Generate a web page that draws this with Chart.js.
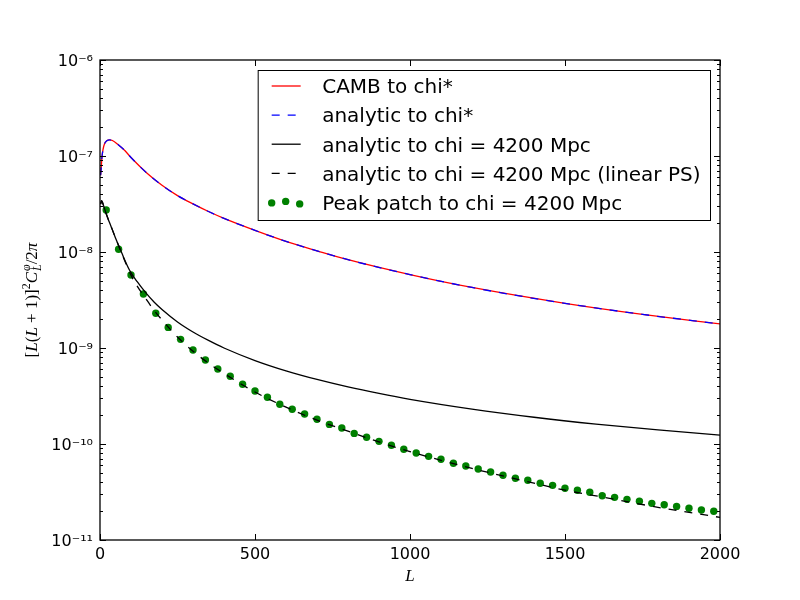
<!DOCTYPE html>
<html>
<head>
<meta charset="utf-8">
<script src="https://cdn.jsdelivr.net/npm/chart.js@4"></script>
<style>
  html, body { margin: 0; padding: 0; background: #fff; }
</style>
</head>
<body>
<canvas id="clChart" width="800" height="600"></canvas>
<script>
// values
const cambL  = [2, 4, 6, 10, 15, 22, 31, 40, 58, 80, 100, 150, 200, 250, 300, 350, 400, 500, 600, 700, 800, 1000, 1200, 1500, 1750, 2000];
const cambCl = [6.3e-8, 7.5e-8, 9.5e-8, 1.18e-7, 1.35e-7, 1.44e-7, 1.47e-7, 1.45e-7, 1.32e-7, 1.14e-7, 9.64e-8, 6.7e-8, 4.96e-8, 3.87e-8, 3.17e-8, 2.64e-8, 2.24e-8, 1.68e-8, 1.29e-8, 1.03e-8, 8.32e-9, 5.82e-9, 4.27e-9, 2.92e-9, 2.24e-9, 1.78e-9];

const anaStarL  = [2, 4, 6, 10, 15, 22, 31, 40, 58, 80, 100, 150, 200, 250, 300, 350, 400, 500, 600, 700, 800, 1000, 1200, 1500, 1750, 2000];
const anaStarCl = [6.3e-8, 7.5e-8, 9.5e-8, 1.18e-7, 1.35e-7, 1.44e-7, 1.47e-7, 1.45e-7, 1.32e-7, 1.14e-7, 9.64e-8, 6.7e-8, 4.96e-8, 3.87e-8, 3.17e-8, 2.64e-8, 2.24e-8, 1.68e-8, 1.29e-8, 1.03e-8, 8.32e-9, 5.82e-9, 4.27e-9, 2.92e-9, 2.24e-9, 1.78e-9];

const chiL  = [2, 5, 10, 15, 20, 30, 40, 52, 70, 95, 120, 148, 175, 200, 250, 300, 350, 400, 500, 600, 700, 800, 900, 1000, 1200, 1400, 1600, 1800, 2000];
const chiCl = [3.15e-8, 3.42e-8, 3.15e-8, 2.8e-8, 2.5e-8, 2.05e-8, 1.7e-8, 1.35e-8, 9.8e-9, 6.5e-9, 4.9e-9, 3.75e-9, 3.0e-9, 2.52e-9, 1.87e-9, 1.47e-9, 1.20e-9, 1.0e-9, 7.4e-10, 5.78e-10, 4.7e-10, 3.93e-10, 3.36e-10, 2.92e-10, 2.31e-10, 1.90e-10, 1.61e-10, 1.40e-10, 1.24e-10];

const linL  = [2, 5, 10, 15, 20, 30, 40, 52, 70, 100, 120, 150, 175, 200, 250, 300, 350, 400, 500, 600, 700, 800, 900, 1000, 1200, 1400, 1500, 1600, 1800, 2000];
const linCl = [3.15e-8, 3.42e-8, 3.15e-8, 2.8e-8, 2.5e-8, 2.05e-8, 1.7e-8, 1.35e-8, 9.7e-9, 5.74e-9, 4.41e-9, 3.19e-9, 2.45e-9, 1.96e-9, 1.30e-9, 9.25e-10, 6.95e-10, 5.43e-10, 3.48e-10, 2.42e-10, 1.77e-10, 1.36e-10, 1.05e-10, 8.32e-11, 5.57e-11, 3.91e-11, 3.3e-11, 2.88e-11, 2.19e-11, 1.72e-11];

const ppL  = [20, 60, 100, 140, 180, 220, 260, 300, 340, 380, 420, 460, 500, 540, 580, 620, 660, 700, 740, 780, 820, 860, 900, 940, 980, 1020, 1060, 1100, 1140, 1180, 1220, 1260, 1300, 1340, 1380, 1420, 1460, 1500, 1540, 1580, 1620, 1660, 1700, 1740, 1780, 1820, 1860, 1900, 1940, 1980];
const ppCl = [2.74e-8, 1.07e-8, 5.76e-9, 3.65e-9, 2.30e-9, 1.64e-9, 1.23e-9, 9.53e-10, 7.50e-10, 6.04e-10, 5.07e-10, 4.19e-10, 3.56e-10, 3.07e-10, 2.59e-10, 2.30e-10, 2.05e-10, 1.81e-10, 1.60e-10, 1.47e-10, 1.29e-10, 1.175e-10, 1.066e-10, 9.69e-11, 8.81e-11, 8.06e-11, 7.44e-11, 6.93e-11, 6.30e-11, 5.90e-11, 5.49e-11, 5.11e-11, 4.72e-11, 4.39e-11, 4.19e-11, 3.90e-11, 3.71e-11, 3.46e-11, 3.30e-11, 3.14e-11, 2.89e-11, 2.78e-11, 2.65e-11, 2.53e-11, 2.41e-11, 2.33e-11, 2.24e-11, 2.14e-11, 2.05e-11, 1.99e-11];

const xTicks = [0, 500, 1000, 1500, 2000];
const yDecades = [-11, -10, -9, -8, -7, -6];

const pts = (xs, ys) => xs.map((x, i) => ({x: x, y: ys[i]}));
const sup = {'-': '\u207B', '0': '\u2070', '1': '\u00B9', '2': '\u00B2', '3': '\u00B3', '4': '\u2074', '5': '\u2075', '6': '\u2076', '7': '\u2077', '8': '\u2078', '9': '\u2079'};
const isDecade = v => Math.abs(Math.log10(v) - Math.round(Math.log10(v))) < 1e-6;

const SANS = "'DejaVu Sans', sans-serif";
const SERIF = "'Liberation Serif', 'DejaVu Serif', serif";

// little mathtext-ish writer for the axis titles
function mathText(ctx, runs, size, x0, y0, draw) {
    let x = x0;
    runs.forEach(r => {
        const parts = r.stack || [r];
        let w = 0;
        parts.forEach(p => {
            const s = size * (p.scale || 1);
            ctx.font = (p.it ? 'italic ' : '') + s + 'px ' + SERIF;
            if (draw) ctx.fillText(p.t, x, y0 + (p.shift || 0) * size);
            w = Math.max(w, ctx.measureText(p.t).width);
        });
        x += w + (r.gap || 0);
    });
    return x - x0;
}

const yTitle = [
    {t: '[', it: false}, {t: 'L', it: true}, {t: '(', it: false}, {t: 'L', it: true},
    {t: ' + 1)]', it: false}, {t: '2', scale: 0.7, shift: -0.4},
    {t: 'C', it: true, gap: 1},
    {stack: [{t: '\u03C6', it: true, scale: 0.7, shift: -0.42}, {t: 'L', it: true, scale: 0.7, shift: 0.22}]},
    {t: '/2', it: false}, {t: '\u03C0', it: true}
];

const decorations = {
    id: 'decorations',
    afterDraw(chart) {
        const {ctx, chartArea: a, scales} = chart;
        ctx.save();
        ctx.strokeStyle = '#000';
        ctx.fillStyle = '#000';

        // inward ticks on all four sides
        ctx.lineWidth = 1;
        ctx.beginPath();
        scales.y.ticks.forEach(t => {
            const y = Math.round(scales.y.getPixelForValue(t.value)) + 0.5;
            const len = isDecade(t.value) ? 6 : 3;
            ctx.moveTo(a.left, y); ctx.lineTo(a.left + len, y);
            ctx.moveTo(a.right, y); ctx.lineTo(a.right - len, y);
        });
        scales.x.ticks.forEach(t => {
            const x = Math.round(scales.x.getPixelForValue(t.value)) + 0.5;
            ctx.moveTo(x, a.bottom); ctx.lineTo(x, a.bottom - 6);
            ctx.moveTo(x, a.top); ctx.lineTo(x, a.top + 6);
        });
        ctx.stroke();

        ctx.lineWidth = 1.3;
        ctx.strokeRect(a.left, a.top, a.right - a.left, a.bottom - a.top);

        // axis titles
        ctx.textBaseline = 'alphabetic';
        ctx.textAlign = 'left';
        const xw = mathText(ctx, [{t: 'L', it: true}], 17, 0, 0, false);
        mathText(ctx, [{t: 'L', it: true}], 17, (a.left + a.right) / 2 - xw / 2, 581, true);

        ctx.save();
        ctx.translate(32, (a.top + a.bottom) / 2);
        ctx.rotate(-Math.PI / 2);
        const yw = mathText(ctx, yTitle, 17, 0, 0, false);
        mathText(ctx, yTitle, 17, -yw / 2, 5, true);
        ctx.restore();

        // legend inside the axes, upper right
        const sets = chart.data.datasets;
        ctx.font = '20px ' + SANS;
        let tw = 0;
        sets.forEach(d => { tw = Math.max(tw, ctx.measureText(d.label).width); });
        const boxW = 64 + tw + 10;
        const boxR = a.right - 9.5;
        const boxL = boxR - boxW;
        const boxT = a.top + 10.5;
        const rowH = 29.1;
        const boxH = 150;
        ctx.fillStyle = '#fff';
        ctx.fillRect(boxL, boxT, boxW, boxH);
        ctx.lineWidth = 1;
        ctx.strokeStyle = '#000';
        ctx.strokeRect(boxL, boxT, boxW, boxH);

        sets.forEach((d, i) => {
            const y = boxT + 15.5 + i * rowH;
            if (d.showLine) {
                ctx.save();
                ctx.strokeStyle = d.borderColor;
                ctx.lineWidth = d.borderWidth;
                ctx.setLineDash(d.borderDash || []);
                ctx.beginPath();
                ctx.moveTo(boxL + 13.5, y);
                ctx.lineTo(boxL + 42.5, y);
                ctx.stroke();
                ctx.restore();
            } else {
                ctx.fillStyle = d.backgroundColor;
                [[13.5, 0.5], [27.5, -1], [41.5, 1.5]].forEach(([dx, dy]) => {
                    ctx.beginPath();
                    ctx.arc(boxL + dx, y + dy, d.pointRadius, 0, Math.PI * 2);
                    ctx.fill();
                });
            }
            ctx.fillStyle = '#000';
            ctx.font = '20px ' + SANS;
            ctx.fillText(d.label, boxL + 64, y + 7.3);
        });
        ctx.restore();
    }
};

Chart.defaults.color = '#000';
Chart.defaults.font.family = SANS;

new Chart(document.getElementById('clChart'), {
    type: 'scatter',
    data: {
        datasets: [
            {label: 'CAMB to chi*', data: pts(cambL, cambCl), showLine: true, borderColor: '#ff0000', borderWidth: 1.3, pointRadius: 0, cubicInterpolationMode: 'monotone', order: 4},
            {label: 'analytic to chi*', data: pts(anaStarL, anaStarCl), showLine: true, borderColor: '#0000ff', borderWidth: 1.3, borderDash: [8, 8], pointRadius: 0, cubicInterpolationMode: 'monotone', order: 3},
            {label: 'analytic to chi = 4200 Mpc', data: pts(chiL, chiCl), showLine: true, borderColor: '#000000', borderWidth: 1.3, pointRadius: 0, cubicInterpolationMode: 'monotone', order: 2},
            {label: 'analytic to chi = 4200 Mpc (linear PS)', data: pts(linL, linCl), showLine: true, borderColor: '#000000', borderWidth: 1.3, borderDash: [8, 8], pointRadius: 0, cubicInterpolationMode: 'monotone', order: 1},
            {label: 'Peak patch to chi = 4200 Mpc', data: pts(ppL, ppCl), showLine: false, backgroundColor: '#008000', borderColor: '#008000', borderWidth: 0, pointRadius: 3.7, order: 5}
        ]
    },
    options: {
        responsive: false,
        animation: false,
        devicePixelRatio: 1,
        layout: {padding: {left: 0, top: 60, right: 80, bottom: 0}},
        plugins: {legend: {display: false}, tooltip: {enabled: false}},
        scales: {
            x: {
                type: 'linear', min: 0, max: 2000,
                grid: {display: false, drawTicks: false},
                border: {display: false},
                afterBuildTicks: axis => { axis.ticks = xTicks.map(v => ({value: v})); },
                afterFit: axis => { axis.height = 60; },
                ticks: {font: {size: 16}, padding: 5, maxRotation: 0, autoSkip: false, callback: v => String(v)}
            },
            y: {
                type: 'logarithmic', min: 1e-11, max: 1e-6,
                grid: {display: false, drawTicks: false},
                border: {display: false},
                afterBuildTicks: axis => {
                    const t = [];
                    yDecades.forEach(e => {
                        [1, 2, 3, 4, 5, 6, 7, 8, 9].forEach(m => {
                            if (e === -6 && m > 1) return;
                            t.push({value: m * Math.pow(10, e)});
                        });
                    });
                    axis.ticks = t;
                },
                afterFit: axis => { axis.width = 100; },
                ticks: {
                    font: {size: 16}, padding: 7, autoSkip: false, labelOffset: 2,
                    callback: v => {
                        if (!isDecade(v)) return '';
                        const e = String(Math.round(Math.log10(v)));
                        return '10' + e.split('').map(c => sup[c]).join('');
                    }
                }
            }
        }
    },
    plugins: [decorations]
});
</script>
</body>
</html>
